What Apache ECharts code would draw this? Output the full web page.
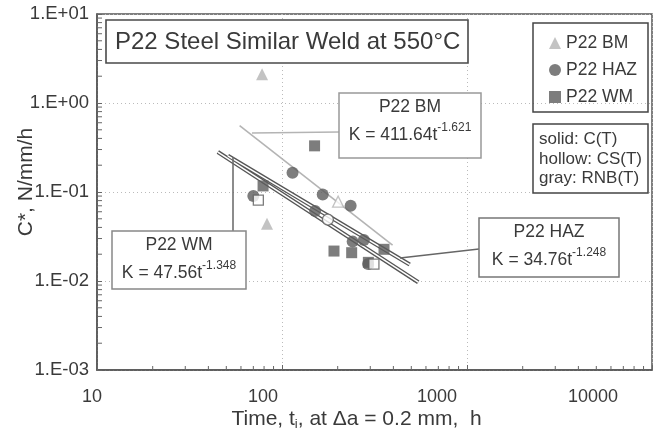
<!DOCTYPE html>
<html>
<head>
<meta charset="utf-8">
<script src="https://cdn.jsdelivr.net/npm/echarts@6/dist/echarts.min.js"></script>
<style>
  html, body { margin: 0; padding: 0; background: #fff; }
  #chart { width: 667px; height: 437px; }
</style>
</head>
<body>
<div id="chart"></div>
<script>
// data: [time h, C* N/mm/h]
const bmSolid = [[78, 2.1], [83, 0.044]];
const bmHollow = [[201, 0.078]];
const hazSolid = [[114, 0.165], [166, 0.094], [235, 0.070], [151, 0.061], [70, 0.090], [241, 0.0277], [277, 0.0289], [292, 0.0155]];
const hazHollow = [[177, 0.049]];
const wmSolid = [[150, 0.33], [79, 0.117], [191, 0.0217], [238, 0.0208], [356, 0.0227], [293, 0.0162]];
const wmHollow = [[74.5, 0.081], [314, 0.0155]];

// fitted power-law lines, end points
const bmFit = [[59, 0.558], [396, 0.0253]];
const hazFit = [[51, 0.255], [490, 0.0153]];
const wmFit = [[45, 0.281], [545, 0.0097]];

const xTicks = [10, 100, 1000, 10000];
const xTickLabels = ['10', '100', '1000', '10000'];
const yTicks = [0.001, 0.01, 0.1, 1, 10];
const yTickLabels = ['1.E-03', '1.E-02', '1.E-01', '1.E+00', '1.E+01'];
const minorSteps = [2, 3, 4, 5, 6, 7, 8, 9];

const xMinor = [];
xTicks.slice(0, -1).forEach(d => minorSteps.forEach(m => xMinor.push([d * m])));
const yMinor = [];
yTicks.slice(0, -1).forEach(d => minorSteps.forEach(m => yMinor.push([d * m])));

const dark = '#5c5c5c';
const light = '#b4b4b4';
const txt = '#3a3a3a';
const font = 'Liberation Sans';

// label offsets to the left, as in the picture
const xLabelPad = { 10: 10, 100: 38, 1000: 60, 10000: 118 };

const chart = echarts.init(document.getElementById('chart'));

function minorTickSeries (list, isX) {
  return {
    type: 'custom',
    silent: true,
    clip: false,
    z: 5,
    data: list,
    encode: isX ? { x: 0 } : { y: 0 },
    renderItem: function (params, api) {
      const v = api.value(0);
      if (isX) {
        const p = api.coord([v, 0.001]);
        return { type: 'line', shape: { x1: p[0], y1: p[1], x2: p[0], y2: p[1] - 4 }, style: { stroke: '#666', lineWidth: 1 } };
      }
      const p = api.coord([10, v]);
      return { type: 'line', shape: { x1: p[0], y1: p[1], x2: p[0] + 5, y2: p[1] }, style: { stroke: '#666', lineWidth: 1 } };
    }
  };
}

function fitLine (data, color, width, z) {
  return {
    type: 'line',
    data: data,
    symbol: 'none',
    silent: true,
    z: z,
    lineStyle: { color: color, width: width }
  };
}

function scatter (name, data, symbol, size, color, border, z) {
  return {
    name: name,
    type: 'scatter',
    data: data,
    symbol: symbol,
    symbolSize: size,
    z: z,
    itemStyle: {
      color: color,
      borderColor: border || color,
      borderWidth: border ? 1.3 : 0
    }
  };
}

function callout (x, y, w, h, border, title, k, pw) {
  return [
    {
      type: 'rect',
      shape: { x: x, y: y, width: w, height: h },
      style: { fill: '#fff', stroke: border, lineWidth: 1.5 },
      z: 20
    },
    {
      type: 'text',
      x: x + w / 2, y: y + 14,
      style: { text: title, font: '17.5px ' + font, fill: txt, align: 'center', verticalAlign: 'middle' },
      z: 21
    },
    {
      type: 'text',
      x: x + w / 2, y: y + 40,
      style: {
        text: '{b|K = ' + k + 't}{s|' + pw + '}',
        align: 'center', verticalAlign: 'middle',
        rich: {
          b: { font: '17.5px ' + font, fill: txt, lineHeight: 22, verticalAlign: 'bottom' },
          s: { font: '12px ' + font, fill: txt, lineHeight: 22, verticalAlign: 'top' }
        }
      },
      z: 21
    }
  ];
}

const option = {
  backgroundColor: '#fff',
  animation: false,
  textStyle: { fontFamily: font },
  grid: {
    left: 97,
    right: 15,
    top: 14,
    bottom: 67,
    outerBoundsMode: 'none',
    containLabel: false,
    show: true,
    borderColor: '#555',
    borderWidth: 1.5
  },
  legend: {
    orient: 'vertical',
    left: 544,
    top: 29,
    itemGap: 9,
    itemWidth: 12,
    itemHeight: 12,
    selectedMode: false,
    data: ['P22 BM', 'P22 HAZ', 'P22 WM'],
    textStyle: { fontSize: 17.5, color: txt, lineHeight: 18, fontFamily: font }
  },
  xAxis: {
    type: 'log',
    logBase: 10,
    min: 10,
    max: 10000,
    name: '{n|Time, t}{sub|i}{n|, at Δa = 0.2 mm,  h}',
    nameLocation: 'middle',
    nameGap: 38,
    nameMoveOverlap: false,
    nameTextStyle: {
      padding: [0, 36, 0, 0],
      rich: {
        n: { fontSize: 21, color: txt, fontFamily: font },
        sub: { fontSize: 13, color: txt, fontFamily: font, padding: [10, 0, 0, 0] }
      }
    },
    axisLine: { show: true, lineStyle: { color: '#555', width: 1.5 } },
    axisTick: { show: true, inside: true, length: 5, lineStyle: { color: '#666' } },
    splitLine: { show: true, lineStyle: { color: '#bbb', type: [1, 3], width: 1 } },
    axisLabel: {
      margin: 18,
      formatter: function (v) {
        const i = xTicks.indexOf(Math.round(v));
        if (i < 0) return '';
        return '{l' + i + '|' + xTickLabels[i] + '}';
      },
      rich: {
        l0: { fontSize: 18, color: txt, fontFamily: font, padding: [0, xLabelPad[10], 0, 0] },
        l1: { fontSize: 18, color: txt, fontFamily: font, padding: [0, xLabelPad[100], 0, 0] },
        l2: { fontSize: 18, color: txt, fontFamily: font, padding: [0, xLabelPad[1000], 0, 0] },
        l3: { fontSize: 18, color: txt, fontFamily: font, padding: [0, xLabelPad[10000], 0, 0] }
      }
    }
  },
  yAxis: {
    type: 'log',
    logBase: 10,
    min: 0.001,
    max: 10,
    name: 'C*, N/mm/h',
    nameLocation: 'middle',
    nameGap: 60,
    nameMoveOverlap: false,
    nameTextStyle: { fontSize: 21, color: txt, fontFamily: font, padding: [0, 0, 0, 20] },
    axisLine: { show: true, lineStyle: { color: '#555', width: 1.5 } },
    axisTick: { show: true, inside: true, length: 5, lineStyle: { color: '#666' } },
    splitLine: { show: true, lineStyle: { color: '#bbb', type: [1, 3], width: 1 } },
    axisLabel: {
      margin: 8,
      fontSize: 18.5,
      color: txt,
      fontFamily: font,
      formatter: function (v) {
        const e = Math.round(Math.log10(v));
        const i = yTicks.findIndex(t => Math.round(Math.log10(t)) === e);
        return i < 0 ? '' : yTickLabels[i];
      }
    }
  },
  series: [
    minorTickSeries(xMinor, true),
    minorTickSeries(yMinor, false),
    fitLine(bmFit, light, 1.6, 2),
    fitLine(hazFit, '#555', 4.2, 2),
    fitLine(hazFit, '#fff', 1.6, 3),
    fitLine(wmFit, '#555', 4.2, 2),
    fitLine(wmFit, '#fff', 1.6, 3),
    scatter('P22 HAZ', hazSolid, 'circle', 12, dark, null, 6),
    scatter('P22 WM', wmSolid, 'rect', 11, dark, null, 7),
    scatter('WM hollow', wmHollow, 'rect', 10, '#fff', dark, 8),
    scatter('HAZ hollow', hazHollow, 'circle', 11, '#fff', dark, 8),
    scatter('P22 BM', bmSolid, 'triangle', 12, light, null, 8),
    scatter('BM hollow', bmHollow, 'triangle', 11, '#fff', light, 8)
  ],
  graphic: [
    // title box
    {
      type: 'rect',
      shape: { x: 106, y: 20, width: 362, height: 43 },
      style: { fill: '#fff', stroke: '#4a4a4a', lineWidth: 1.6 },
      z: 20
    },
    {
      type: 'text',
      x: 115, y: 42,
      style: { text: 'P22 Steel Similar Weld at 550°C', font: '24px ' + font, fill: txt, verticalAlign: 'middle' },
      z: 21
    },
    // legend box
    {
      type: 'rect',
      shape: { x: 533, y: 23, width: 115, height: 89 },
      style: { fill: 'none', stroke: '#444', lineWidth: 1.5 },
      z: 1
    },
    // specimen type box
    {
      type: 'rect',
      shape: { x: 533, y: 124, width: 115, height: 69 },
      style: { fill: '#fff', stroke: '#444', lineWidth: 1.5 },
      z: 20
    },
    {
      type: 'text',
      x: 539, y: 159,
      style: {
        text: 'solid: C(T)\nhollow: CS(T)\ngray: RNB(T)',
        font: '17px ' + font, fill: txt, lineHeight: 19.5, verticalAlign: 'middle'
      },
      z: 21
    },
    // leader lines
    { type: 'line', shape: { x1: 252, y1: 133, x2: 339, y2: 132 }, style: { stroke: light, lineWidth: 1.5 }, z: 19 },
    { type: 'line', shape: { x1: 233, y1: 157, x2: 233, y2: 231 }, style: { stroke: '#666', lineWidth: 1.5 }, z: 19 },
    { type: 'line', shape: { x1: 400, y1: 258, x2: 479, y2: 249 }, style: { stroke: '#666', lineWidth: 1.5 }, z: 19 }
  ]
    .concat(callout(339, 93, 142, 65, '#999', 'P22 BM', '411.64', '-1.621'))
    .concat(callout(112, 231, 134, 58, '#888', 'P22 WM', '47.56', '-1.348'))
    .concat(callout(479, 218, 140, 59, '#777', 'P22 HAZ', '34.76', '-1.248'))
};

chart.setOption(option);
</script>
</body>
</html>
